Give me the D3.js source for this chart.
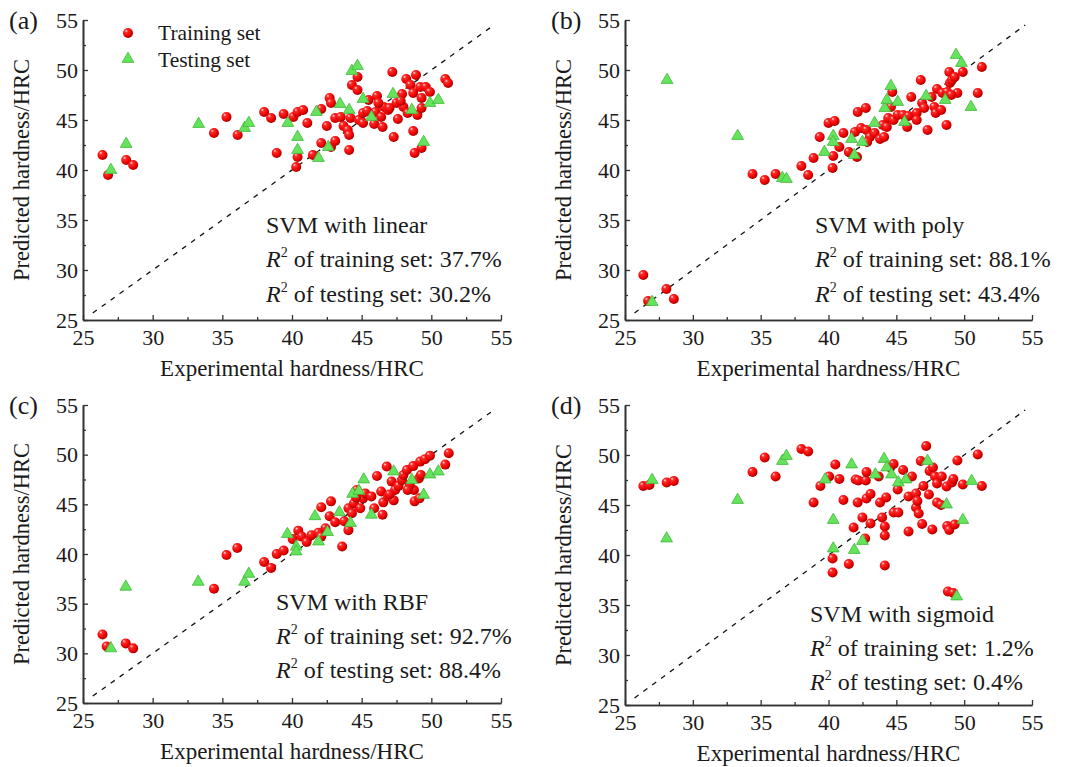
<!DOCTYPE html>
<html lang="en">
<head>
    <meta charset="UTF-8">
    <title>SVM kernels - predicted vs experimental hardness</title>
    <script src="https://d3js.org/d3.v7.min.js"></script>
    <style>
        body {
            margin: 0;
            background: #fff;
        }
        svg text {
            font-family: "Liberation Serif", "Times New Roman", serif;
            fill: #1a1a1a;
        }
        .axis path, .axis line {
            stroke: #333;
        }
        .axis path {
            stroke-width: 1.6;
        }
        .axis line {
            stroke-width: 1.3;
        }
        .axis text {
            font-size: 22px;
        }
    </style>
</head>
<body>
    <svg id="chart" width="1073" height="767"></svg>

    <script>
        // [experimental, predicted] pairs
        const trainLinear = [
            [26.4, 41.5], [26.8, 39.5], [28.1, 41.0], [28.6, 40.5], [34.4, 43.7], [35.3, 45.3],
            [36.1, 43.5], [38.0, 45.8], [38.5, 45.2], [38.9, 41.7], [39.4, 45.6], [40.1, 45.3],
            [40.3, 40.3], [40.4, 41.3], [40.4, 45.8], [40.8, 46.0], [41.1, 44.7], [41.5, 41.5],
            [42.1, 42.7], [42.1, 46.1], [42.5, 44.4], [42.7, 47.2], [42.8, 46.7], [42.8, 42.3],
            [43.1, 45.2], [43.1, 42.9], [43.7, 44.4], [44.0, 44.0], [44.1, 43.5], [44.1, 42.0],
            [44.2, 45.2], [44.3, 48.5], [44.7, 49.3], [44.7, 48.0], [44.8, 45.0], [45.1, 45.7],
            [45.1, 44.7], [45.5, 47.0], [45.9, 44.6], [46.0, 45.8], [46.1, 47.4], [46.4, 45.3],
            [46.5, 44.3], [46.6, 46.3], [46.9, 46.0], [47.2, 49.8], [47.3, 43.3], [47.5, 46.7],
            [47.6, 45.1], [47.9, 47.6], [48.0, 46.3], [48.2, 49.1], [48.3, 45.7], [48.5, 48.5],
            [48.7, 47.7], [48.7, 43.9], [48.8, 41.7], [48.9, 49.5], [49.0, 45.5], [49.2, 48.3],
            [49.3, 47.2], [49.3, 42.2], [49.3, 46.2], [49.6, 48.3], [49.9, 47.8], [51.0, 49.1],
            [51.2, 48.7], [43.5, 45.3], [45.4, 45.9], [46.2, 46.7], [47.0, 46.2], [47.8, 46.9]
        ];
        const testLinear = [
            [27.0, 40.0], [28.1, 42.6], [33.3, 44.6], [36.6, 44.2], [36.9, 44.7], [39.7, 44.7],
            [40.4, 43.3], [40.4, 42.0], [41.75, 45.8], [41.9, 41.2], [42.6, 42.3], [43.45, 46.6],
            [44.1, 46.0], [44.3, 49.9], [44.7, 50.4], [45.1, 47.1], [45.7, 45.3], [47.25, 47.6],
            [48.6, 46.0], [49.45, 42.8], [49.9, 46.7], [50.5, 47.0]
        ];

        const trainPoly = [
            [26.35, 29.5], [26.7, 26.9], [28.05, 28.1], [28.6, 27.1], [34.4, 39.6], [35.3, 39.0],
            [36.1, 39.6], [38.0, 40.4], [38.5, 39.5], [38.9, 41.2], [39.35, 43.3], [40.0, 44.7],
            [40.45, 44.9], [40.35, 41.4], [40.3, 40.2], [40.8, 42.3], [41.1, 43.7], [41.5, 41.8],
            [42.1, 41.3], [41.95, 43.8], [42.15, 45.8], [42.75, 46.2], [42.4, 44.2], [42.8, 44.0],
            [43.05, 43.3], [42.85, 42.8], [43.4, 43.7], [43.8, 43.1], [44.1, 43.3], [44.0, 44.5],
            [44.3, 44.3], [44.4, 45.2], [44.6, 46.3], [44.7, 47.8], [44.8, 45.0], [45.1, 45.5],
            [45.5, 45.5], [45.9, 45.4], [45.8, 44.3], [46.1, 47.3], [46.5, 45.7], [46.5, 45.0],
            [46.8, 49.0], [46.9, 46.7], [47.05, 46.2], [47.3, 44.0], [47.6, 47.3], [47.8, 46.3],
            [47.9, 45.7], [48.0, 48.1], [48.3, 46.0], [48.4, 47.7], [48.7, 44.5], [48.9, 49.8],
            [48.95, 48.7], [49.1, 49.0], [49.3, 49.3], [49.5, 47.7], [49.9, 49.8], [51.0, 47.7],
            [51.3, 50.3], [48.75, 47.8], [49.05, 47.5]
        ];
        const testPoly = [
            [27.0, 26.8], [28.1, 49.0], [33.3, 43.4], [36.6, 39.2], [36.9, 39.1], [39.7, 41.8],
            [40.35, 43.4], [40.35, 42.8], [41.7, 43.1], [41.9, 41.5], [42.5, 42.8], [43.4, 44.7],
            [44.15, 46.2], [44.3, 47.0], [44.6, 48.4], [45.1, 46.8], [45.6, 44.8], [47.2, 47.4],
            [48.6, 47.0], [49.4, 51.5], [49.8, 50.7], [50.5, 46.3]
        ];

        const trainRbf = [
            [26.4, 31.9], [26.7, 30.7], [28.07, 31.0], [28.6, 30.5], [34.4, 36.5], [35.3, 39.9],
            [36.07, 40.6], [38.0, 39.2], [38.5, 38.6], [38.9, 40.0], [39.4, 40.35], [40.05, 41.5],
            [40.45, 42.35], [40.7, 41.75], [41.05, 41.2], [41.4, 41.9], [41.9, 42.15], [42.1, 41.75],
            [42.1, 44.7], [42.7, 43.8], [42.8, 45.3], [43.1, 43.2], [43.6, 40.75], [43.75, 43.3],
            [44.05, 42.4], [44.05, 44.6], [44.3, 44.1], [44.45, 45.1], [44.65, 46.45], [44.9, 44.6],
            [45.1, 45.6], [45.25, 46.1], [45.7, 45.8], [45.9, 44.6], [46.1, 47.85], [46.4, 46.3],
            [46.5, 43.95], [46.55, 45.2], [46.8, 48.8], [46.9, 45.8], [47.15, 47.3], [47.3, 45.4],
            [47.4, 46.45], [47.65, 46.85], [47.9, 47.45], [48.0, 47.95], [48.25, 48.45], [48.7, 48.85],
            [48.75, 46.45], [48.8, 45.3], [49.1, 47.6], [49.25, 47.95], [49.2, 49.3], [49.55, 49.55],
            [49.9, 49.9], [51.0, 49.0], [51.25, 50.15], [48.45, 46.95], [48.3, 46.45], [49.15, 45.6],
            [42.4, 42.6], [44.6, 45.7], [47.0, 46.0]
        ];
        const testRbf = [
            [27.0, 30.5], [28.07, 36.7], [33.27, 37.2], [36.6, 37.2], [36.9, 38.0], [39.67, 42.0],
            [40.3, 40.75], [40.3, 40.25], [41.65, 43.8], [41.9, 41.25], [42.55, 42.2], [43.4, 44.2],
            [44.2, 43.1], [44.35, 46.05], [44.8, 46.35], [45.15, 47.5], [45.7, 43.95], [47.3, 48.3],
            [48.6, 47.45], [49.45, 45.95], [49.9, 48.0], [50.5, 48.3]
        ];

        const trainSigmoid = [
            [26.35, 46.9], [26.8, 47.0], [28.07, 47.25], [28.6, 47.4], [34.4, 48.3], [35.3, 49.75],
            [36.1, 47.85], [38.0, 50.6], [38.5, 50.35], [38.9, 45.25], [39.4, 46.9], [40.05, 47.85],
            [40.5, 49.05], [40.8, 47.6], [40.3, 39.65], [40.3, 38.25], [41.1, 45.5], [41.5, 39.1],
            [41.85, 42.75], [42.0, 47.55], [42.2, 47.45], [42.15, 45.25], [42.5, 43.75], [42.7, 41.65],
            [42.75, 47.45], [42.8, 48.3], [42.8, 45.65], [43.1, 46.1], [43.1, 43.15], [43.7, 47.85],
            [43.8, 45.25], [43.95, 43.75], [44.15, 42.85], [44.15, 41.95], [44.15, 38.95], [44.25, 45.75],
            [44.55, 48.75], [44.8, 49.1], [44.8, 44.25], [45.15, 44.25], [45.1, 46.55], [45.5, 48.5],
            [45.9, 42.35], [45.9, 45.85], [46.15, 47.85], [46.45, 46.15], [46.45, 44.75], [46.55, 45.4],
            [46.65, 44.15], [46.8, 49.4], [46.9, 43.1], [47.0, 46.9], [47.2, 50.9], [47.4, 46.05],
            [47.45, 48.4], [47.65, 42.55], [47.7, 48.75], [47.85, 47.85], [48.0, 47.15], [48.0, 45.25],
            [48.3, 45.0], [48.35, 47.85], [48.7, 46.85], [48.75, 42.9], [48.8, 36.35], [48.9, 42.5],
            [49.1, 47.25], [49.2, 47.6], [49.3, 43.05], [49.5, 49.45], [49.9, 47.05], [51.0, 50.05],
            [51.3, 46.9], [49.2, 36.2]
        ];
        const testSigmoid = [
            [27.0, 47.5], [28.07, 41.65], [33.3, 45.5], [36.6, 49.4], [36.9, 49.9], [39.75, 47.55],
            [40.35, 43.5], [40.35, 40.65], [41.7, 49.05], [41.9, 40.5], [42.5, 41.4], [43.45, 48.05],
            [44.1, 49.6], [44.3, 48.75], [44.65, 48.05], [45.15, 47.25], [45.7, 47.55], [47.3, 49.4],
            [48.7, 45.05], [49.45, 35.85], [49.9, 43.5], [50.55, 47.4]
        ];

        const majorTicks = [25, 30, 35, 40, 45, 50, 55];
        const minorTicks = [27.5, 32.5, 37.5, 42.5, 47.5, 52.5];
        const panelLabels = ["(a)", "(b)", "(c)", "(d)"];
        const kernelNames = ["linear", "poly", "RBF", "sigmoid"];
        const r2Train = ["37.7%", "88.1%", "92.7%", "1.2%"];
        const r2Test = ["30.2%", "43.4%", "88.4%", "0.4%"];
        const trainSets = [trainLinear, trainPoly, trainRbf, trainSigmoid];
        const testSets = [testLinear, testPoly, testRbf, testSigmoid];

        // where each panel sits on the page
        const boxes = [
            { left: 83, top: 20, w: 418, h: 300, noteX: 183, noteY: [213, 247, 282] },
            { left: 625, top: 20, w: 407, h: 300, noteX: 190, noteY: [213, 247, 282] },
            { left: 83, top: 405, w: 418, h: 298, noteX: 193, noteY: [205, 239, 273] },
            { left: 625, top: 405, w: 407, h: 300, noteX: 185, noteY: [217, 251, 285] }
        ];

        const svg = d3.select("#chart");

        // shaded red ball like the original markers
        const grad = svg.append("defs").append("radialGradient")
            .attr("id", "ball")
            .attr("cx", "38%").attr("cy", "35%").attr("r", "65%")
            .attr("fx", "32%").attr("fy", "28%");
        grad.append("stop").attr("offset", "0%").attr("stop-color", "#ffe0e0");
        grad.append("stop").attr("offset", "25%").attr("stop-color", "#ff2a2a");
        grad.append("stop").attr("offset", "75%").attr("stop-color", "#e80000");
        grad.append("stop").attr("offset", "100%").attr("stop-color", "#a00000");

        const tri = d3.symbol().type(d3.symbolTriangle).size(60);

        boxes.forEach((b, i) => {
            const g = svg.append("g").attr("transform", `translate(${b.left},${b.top})`);

            const x = d3.scaleLinear().domain([25, 55]).range([0, b.w]);
            const y = d3.scaleLinear().domain([25, 55]).range([b.h, 0]);

            // minor ticks first, then the main axes
            g.append("g").attr("class", "axis")
                .attr("transform", `translate(0,${b.h})`)
                .call(d3.axisBottom(x).tickValues(minorTicks).tickSize(-3).tickSizeOuter(0).tickFormat(""));
            g.append("g").attr("class", "axis")
                .call(d3.axisLeft(y).tickValues(minorTicks).tickSize(-3).tickSizeOuter(0).tickFormat(""));

            g.append("g").attr("class", "axis")
                .attr("transform", `translate(0,${b.h})`)
                .call(d3.axisBottom(x).tickValues(majorTicks).tickSize(-5).tickSizeOuter(0).tickPadding(9));
            g.append("g").attr("class", "axis")
                .call(d3.axisLeft(y).tickValues(majorTicks).tickSize(-5).tickSizeOuter(0).tickPadding(5));

            g.selectAll(".axis text").style("fill", "#1a1a1a");

            // y = x reference line
            g.append("line")
                .attr("x1", x(25.7)).attr("y1", y(25.7))
                .attr("x2", x(54.5)).attr("y2", y(54.5))
                .attr("stroke", "#111")
                .attr("stroke-width", 1.3)
                .attr("stroke-dasharray", "5,6");

            g.selectAll("circle.train")
                .data(trainSets[i])
                .join("circle")
                .attr("class", "train")
                .attr("cx", d => x(d[0]))
                .attr("cy", d => y(d[1]))
                .attr("r", 5)
                .attr("fill", "url(#ball)");

            g.selectAll("path.test")
                .data(testSets[i])
                .join("path")
                .attr("class", "test")
                .attr("transform", d => `translate(${x(d[0])},${y(d[1])})`)
                .attr("d", tri)
                .attr("fill", "#66e35c")
                .attr("stroke", "#3fb83a")
                .attr("stroke-width", 0.8);

            // axis titles
            g.append("text")
                .attr("x", b.w / 2)
                .attr("y", b.h + 56)
                .attr("text-anchor", "middle")
                .style("font-size", "23px")
                .text("Experimental hardness/HRC");

            g.append("text")
                .attr("transform", `translate(-54,${b.h / 2}) rotate(-90)`)
                .attr("text-anchor", "middle")
                .style("font-size", "22.5px")
                .text("Predicted hardness/HRC");

            g.append("text")
                .attr("x", -74)
                .attr("y", 9)
                .style("font-size", "26px")
                .text(panelLabels[i]);

            // annotation block
            g.append("text")
                .attr("x", b.noteX)
                .attr("y", b.noteY[0])
                .style("font-size", "24px")
                .text("SVM with " + kernelNames[i]);

            [["training", r2Train[i]], ["testing", r2Test[i]]].forEach((row, k) => {
                const t = g.append("text")
                    .attr("x", b.noteX)
                    .attr("y", b.noteY[k + 1])
                    .style("font-size", "24px");
                t.append("tspan").style("font-style", "italic").text("R");
                t.append("tspan").attr("dy", -10).style("font-size", "14px").text("2");
                t.append("tspan").attr("dy", 10).text(` of ${row[0]} set: ${row[1]}`);
            });
        });

        // legend inside panel (a)
        const legend = svg.append("g").attr("transform", "translate(128,33)");
        legend.append("circle").attr("r", 5).attr("fill", "url(#ball)");
        legend.append("text").attr("x", 30).attr("y", 7).style("font-size", "21.5px").text("Training set");
        legend.append("path")
            .attr("transform", "translate(0,26)")
            .attr("d", tri)
            .attr("fill", "#66e35c")
            .attr("stroke", "#3fb83a")
            .attr("stroke-width", 0.8);
        legend.append("text").attr("x", 30).attr("y", 34).style("font-size", "21.5px").text("Testing set");
    </script>
</body>
</html>
